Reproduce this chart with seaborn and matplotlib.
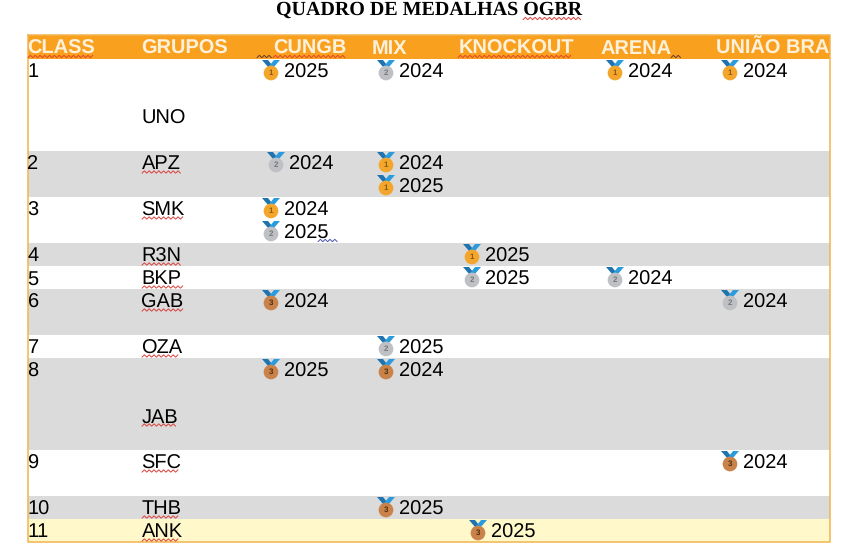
import numpy as np
import pandas as pd
import matplotlib
matplotlib.use("Agg")
import matplotlib.pyplot as plt
import seaborn as sns

TITLE = "QUADRO DE MEDALHAS OGBR"
HEADERS = ["CLASS", "GRUPOS", "CUNGB", "MIX", "KNOCKOUT", "ARENA", "UNIÃO BRA"]
CLASSES = ["1", "2", "3", "4", "5", "6", "7", "8", "9", "10", "11"]
GROUPS = ["UNO", "APZ", "SMK", "R3N", "BKP", "GAB", "OZA", "JAB", "SFC", "THB", "ANK"]
ROW_LINES = [4, 2, 2, 1, 1, 2, 1, 4, 2, 1, 1]
GROUP_LINE = [2, 0, 0, 0, 0, 0, 0, 2, 0, 0, 0]
# class index, competition, place, year, line inside the row
M_ROW = [0, 0, 0, 0, 1, 1, 1, 2, 2, 3, 4, 4, 5, 5, 6, 7, 7, 8, 9, 10]
M_COL = ["CUNGB", "MIX", "ARENA", "UNIÃO BRA", "CUNGB", "MIX", "MIX", "CUNGB", "CUNGB",
         "KNOCKOUT", "KNOCKOUT", "ARENA", "CUNGB", "UNIÃO BRA", "MIX", "CUNGB", "MIX", "UNIÃO BRA", "MIX", "KNOCKOUT"]
M_PLACE = [1, 2, 1, 1, 2, 1, 1, 1, 2, 1, 2, 2, 3, 2, 2, 3, 3, 3, 3, 3]
M_YEAR = [2025, 2024, 2024, 2024, 2024, 2024, 2025, 2024, 2025, 2025, 2025, 2024, 2024, 2024, 2025, 2025, 2024, 2024, 2025, 2025]
M_LINE = [0, 0, 0, 0, 0, 0, 1, 0, 1, 0, 0, 0, 0, 0, 0, 0, 0, 0, 0, 0]

# layout (pixels)
W, H = 844, 555
LEFT, RIGHT, TOP, HEAD_BOTTOM, LINE_H = 27.5, 830, 35, 59, 23
HEAD_X = [27.5, 141.5, 273.5, 371.5, 458.5, 600.5, 715.5]
MEDAL_X = {"CUNGB": 271, "MIX": 386, "KNOCKOUT": 472, "ARENA": 615, "UNIÃO BRA": 730}
ORANGE, GREY, CREAM = "#F9A11F", "#DBDBDB", "#FFF8CA"
MEDAL_COL = {1: "#F3A62B", 2: "#BFC0C4", 3: "#C8824A"}
MEDAL_TXT = {1: "#8A5A10", 2: "#77787C", 3: "#55300F"}

sns.set_theme(style="white")
plt.rcParams["font.family"] = ["Liberation Sans", "DejaVu Sans"]
plt.rcParams["text.hinting"] = "no_hinting"
plt.rcParams["text.hinting_factor"] = 1

fig, ax = plt.subplots(figsize=(W / 100, H / 100), dpi=100)
ax.set_position([0, 0, 1, 1])
ax.set_xlim(0, W)
ax.set_ylim(H, 0)
ax.axis("off")

FS = 14.3
BASE = 18.4


def squiggle(x0, x1, y, color="#D9403A", lw=0.7):
    xs = np.arange(x0, x1 + 0.01, 2.4)
    ys = y + np.where(np.arange(xs.size) % 2 == 0, 1.2, -1.2)
    ax.plot(xs, ys, color=color, lw=lw, solid_joinstyle="miter", zorder=5)


# rows
tops = HEAD_BOTTOM + np.concatenate([[0], np.cumsum(ROW_LINES)[:-1]]) * LINE_H
heights = np.array(ROW_LINES) * LINE_H
band = [("white" if i % 2 == 0 else GREY) for i in range(len(CLASSES))]
band[-1] = CREAM
ax.bar(np.full(len(tops), (LEFT + RIGHT) / 2), heights, width=RIGHT - LEFT, bottom=tops,
       color=band, linewidth=0, zorder=1)
ax.bar((LEFT + RIGHT) / 2, HEAD_BOTTOM - TOP, width=RIGHT - LEFT, bottom=TOP, color=ORANGE, linewidth=0, zorder=1)
bottom = tops[-1] + heights[-1]
ax.plot([LEFT, LEFT, RIGHT, RIGHT, LEFT], [TOP, bottom, bottom, TOP, TOP], color="#F3B44E", lw=1.1, zorder=4)

# title and header
ax.text(429.5, 15, TITLE, family="Liberation Serif", weight="bold", fontsize=14.3, color="black", ha="center", va="baseline", zorder=6)
squiggle(523, 582, 18.5)
for x, h in zip(HEAD_X, HEADERS):
    ax.text(x, 53.5, h, color="#FDF1DC", weight="bold", fontsize=14.5, ha="left", va="baseline", zorder=6)
squiggle(28, 94, 56.5, "#E0452B")
squiggle(257, 273, 56.5, "#6B3A2A")
squiggle(273, 346, 56.5, "#E0452B")
squiggle(458, 573, 56.5, "#E0452B")
squiggle(671, 681, 56.5, "#6B3A2A")

# first columns
for i, (c, g) in enumerate(zip(CLASSES, GROUPS)):
    ax.text(27.5, tops[i] + BASE, c, color="black", fontsize=FS, va="baseline", zorder=6)
    base = tops[i] + GROUP_LINE[i] * LINE_H + BASE
    ax.text(141.5, base, g, color="black", fontsize=FS, va="baseline", zorder=6)
    if g != "UNO":
        squiggle(142, 142 + {"APZ": 39, "SMK": 43, "R3N": 40, "BKP": 41, "GAB": 42, "OZA": 38,
                             "JAB": 35, "SFC": 37, "THB": 37, "ANK": 38}[g], base + 2.6)

# medals
df = pd.DataFrame({"row": M_ROW, "col": M_COL, "place": M_PLACE, "year": M_YEAR, "line": M_LINE})
df["x"] = df["col"].map(MEDAL_X).astype(float)
# cells indented in the source table
df.loc[(df["row"] == 1) & (df["col"] == "CUNGB"), "x"] += 5
df.loc[(df["row"] == 10) & (df["col"] == "KNOCKOUT"), "x"] += 6
df["top"] = tops[df["row"].to_numpy()] + df["line"] * LINE_H
df["y"] = df["top"] + 14
sns.scatterplot(data=df, x="x", y="y", hue="place", palette=MEDAL_COL, s=112, linewidth=0,
                legend=False, ax=ax, zorder=7)
for _, r in df.iterrows():
    x, t = r["x"], r["top"]
    ax.fill([x - 9, x - 3, x + 3, x - 2.5], [t + 1, t + 1, t + 8.5, t + 8.5], color="#1F74B0", lw=0, zorder=6)
    ax.fill([x + 9, x + 3, x - 3, x + 2.5], [t + 1, t + 1, t + 8.5, t + 8.5], color="#2A9BDD", lw=0, zorder=6)
    ax.text(x, r["y"] + 0.3, str(r["place"]), fontsize=6, color=MEDAL_TXT[r["place"]], weight="bold",
            ha="center", va="center", zorder=8)
    ax.text(x + 13.3, t + BASE, str(r["year"]), fontsize=FS, color="black", va="baseline", zorder=6)
squiggle(318, 339, 240.5, "#4A55B0")

fig.savefig("out.png", dpi=100)
